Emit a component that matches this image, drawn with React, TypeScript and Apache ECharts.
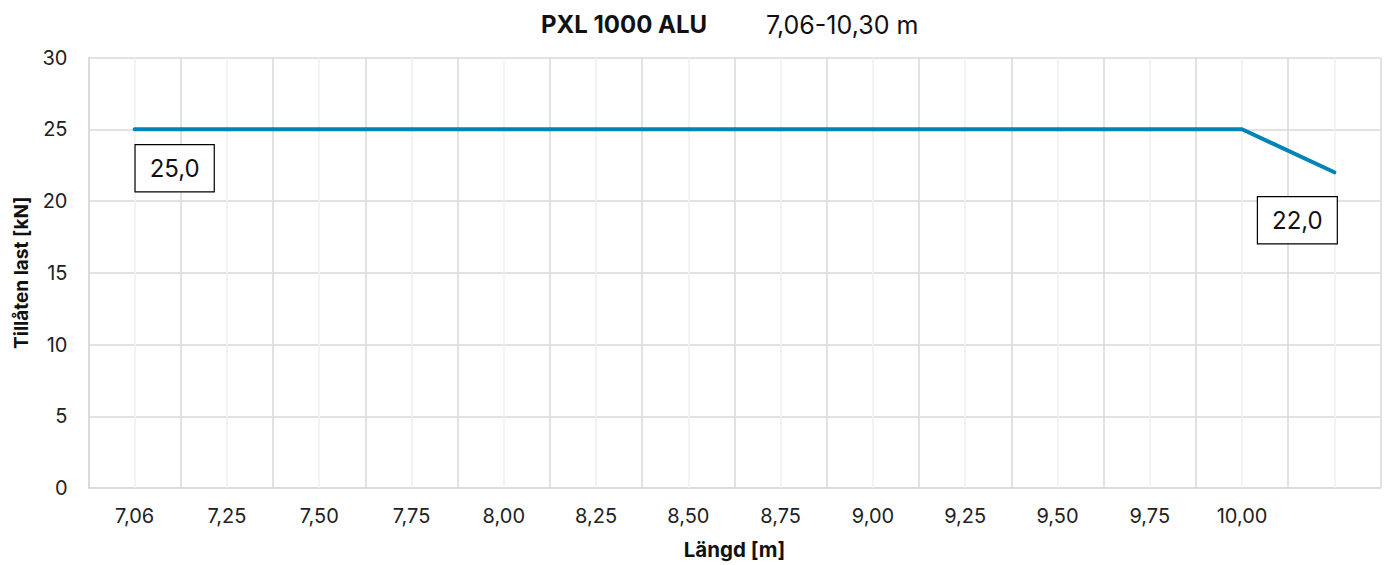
import React, { useEffect, useRef } from "react";
import * as echarts from "echarts";

const categories = ["7,06", "7,25", "7,50", "7,75", "8,00", "8,25", "8,50", "8,75", "9,00", "9,25", "9,50", "9,75", "10,00", "10,30"];
const loads = [25, 25, 25, 25, 25, 25, 25, 25, 25, 25, 25, 25, 25, 22];
const yTicks = { min: 0, max: 30, interval: 5 };
const titleMain = "PXL 1000 ALU";
const titleSub = "7,06-10,30 m";
const xName = "Längd [m]";
const yName = "Tillåten last [kN]";

const FONT = "Inter";

export default function App() {
  const ref = useRef<HTMLDivElement>(null);
  useEffect(() => {
    document.body.style.margin = "0";
    const chart = echarts.init(ref.current!, undefined, { renderer: "svg" });
    const last = loads.length - 1;
    const labelBase = {
      show: true,
      position: "inside",
      align: "center",
      verticalAlign: "middle",
      fontFamily: FONT,
      fontSize: 24,
      lineHeight: 24,
      color: "#111",
      backgroundColor: "#fff",
      borderColor: "#000",
      borderWidth: 1.2,
      padding: [11, 14],
      formatter: (p: any) => Number(p.value).toFixed(1).replace(".", ","),
    };
    const seriesData = loads.map((v, i) => {
      if (i === 0) return { value: v, label: { ...labelBase, offset: [40, 39] } };
      if (i === last) return { value: v, label: { ...labelBase, offset: [-37, 48] } };
      return v;
    });
    chart.setOption({
      animation: false,
      title: [
        { text: titleMain, left: 541, top: 12, padding: 0, textStyle: { fontFamily: FONT, fontSize: 24, fontWeight: "bold", color: "#111" } },
        { text: titleSub, left: 766, top: 12, padding: 0, textStyle: { fontFamily: FONT, fontSize: 25, fontWeight: "normal", color: "#111" } },
      ],
      grid: { left: 88.5, right: 8.5, top: 57.5, bottom: 75.5, containLabel: false },
      xAxis: {
        type: "category",
        data: categories,
        boundaryGap: true,
        name: xName,
        nameLocation: "middle",
        nameGap: 51,
        nameTextStyle: { fontFamily: FONT, fontSize: 20.5, fontWeight: "bold", color: "#111" },
        axisLine: { show: true, lineStyle: { color: "#d9d9d9", width: 1.5 } },
        axisTick: { show: false },
        axisLabel: {
          fontFamily: FONT,
          fontSize: 20,
          color: "#222",
          margin: 18,
          interval: 0,
          formatter: (v: string, i: number) => (i === last ? "" : v),
        },
        splitLine: { show: true, interval: 0, lineStyle: { color: "#d9d9d9", width: 1.5 } },
      },
      yAxis: {
        type: "value",
        ...yTicks,
        name: yName,
        nameLocation: "middle",
        nameGap: 58,
        nameTextStyle: { fontFamily: FONT, fontSize: 19, fontWeight: "bold", color: "#111" },
        axisLine: { show: true, lineStyle: { color: "#d9d9d9", width: 1.5 } },
        axisTick: { show: false },
        axisLabel: { fontFamily: FONT, fontSize: 20, color: "#222", margin: 21 },
        splitLine: { show: true, lineStyle: { color: "#d9d9d9", width: 1.5 } },
      },
      series: [
        {
          type: "line",
          data: [],
          z: 1,
          silent: true,
          markLine: {
            silent: true,
            z: 1,
            symbol: "none",
            label: { show: false },
            lineStyle: { color: "#efefef", width: 1.5, type: "solid" },
            data: categories.map((_, i) => ({ xAxis: i })),
          },
        },
        {
          type: "line",
          z: 10,
          data: seriesData,
          symbol: "circle",
          symbolSize: 1,
          showSymbol: true,
          itemStyle: { color: "rgba(0,0,0,0)" },
          lineStyle: { color: "#0083b6", width: 4, cap: "round" },
          label: { show: false },
        },
      ],
    });
    return () => chart.dispose();
  }, []);
  return <div ref={ref} style={{ width: 1389, height: 565 }} />;
}
